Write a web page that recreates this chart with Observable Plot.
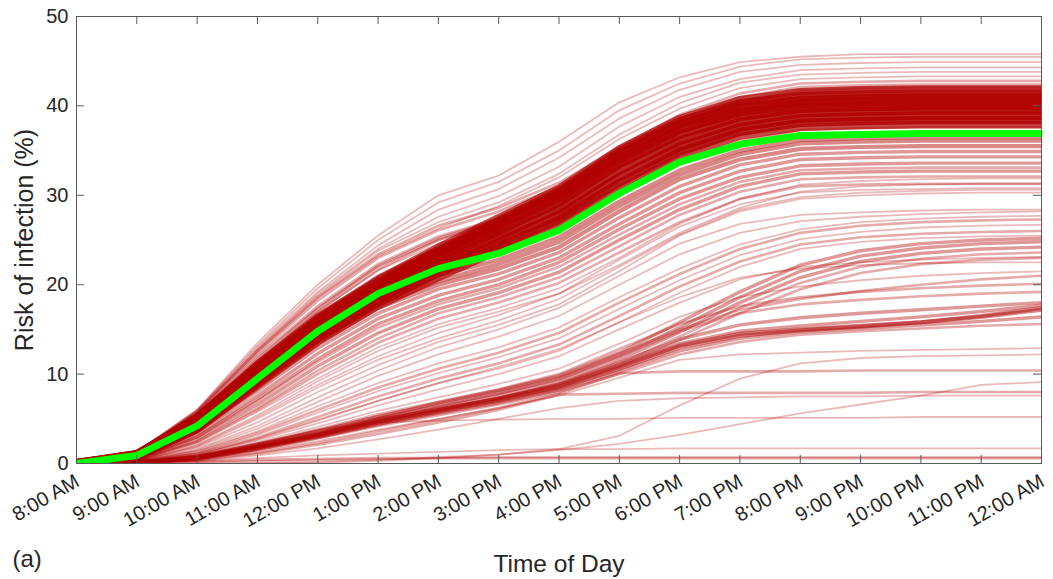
<!DOCTYPE html>
<html><head><meta charset="utf-8">
<script src="https://cdn.jsdelivr.net/npm/d3@7"></script>
<script src="https://cdn.jsdelivr.net/npm/@observablehq/plot@0.6"></script>
<style>
body{margin:0;background:#fff;}
#chart{width:1053px;height:579px;font-family:"Liberation Sans",Arial,Helvetica,sans-serif;}
</style></head><body><div id="chart"></div>
<script>
// ---- tick labels ----
const hourLabels = ["8:00 AM","9:00 AM","10:00 AM","11:00 AM","12:00 PM","1:00 PM","2:00 PM","3:00 PM","4:00 PM","5:00 PM","6:00 PM","7:00 PM","8:00 PM","9:00 PM","10:00 PM","11:00 PM","12:00 AM"];
const riskTicks = [0,10,20,30,40,50];
const xTitle = "Time of Day";
const yTitle = "Risk of infection (%)";
const panelTag = "(a)";

// ---- mean risk (green) ----
const meanRisk = [0,0.9,4.2,9.5,14.8,19.0,21.8,23.5,26.1,30.2,33.7,35.7,36.7,36.8,36.9,36.9,36.9];

// ---- dense core of the main cluster (each path stands for many runs) ----
const corePaths = [
 [0,0.7,3.8,8.8,13.6,17.6,20.8,23.8,26.8,30.8,34.3,36.6,37.6,37.8,37.9,37.9,37.9],
 [0,0.8,4.0,9.1,14.0,18.0,21.3,24.3,27.3,31.4,34.9,37.1,38.1,38.3,38.4,38.4,38.4],
 [0,0.8,4.2,9.4,14.4,18.4,21.8,24.8,27.8,32.0,35.4,37.6,38.6,38.8,38.9,38.9,38.9],
 [0,0.9,4.4,9.8,14.9,18.9,22.3,25.4,28.5,32.8,36.1,38.2,39.2,39.4,39.5,39.5,39.5],
 [0,0.9,4.6,10.2,15.3,19.4,22.8,26.0,29.2,33.5,36.8,38.8,39.7,39.9,40.0,40.0,40.0],
 [0,1.0,4.8,10.5,15.6,19.8,23.2,26.5,29.7,34.0,37.4,39.3,40.2,40.4,40.5,40.5,40.5],
 [0,1.0,5.0,10.7,15.9,20.1,23.6,26.9,30.2,34.5,37.9,39.8,40.6,40.8,40.9,40.9,40.9],
 [0,1.0,5.1,10.9,16.2,20.4,23.9,27.2,30.5,34.9,38.3,40.3,41.1,41.3,41.4,41.4,41.4],
 [0,1.0,5.2,11.1,16.4,20.6,24.2,27.5,30.8,35.2,38.6,40.7,41.6,41.8,41.9,41.9,41.9]
];
const coreRuns = [8,9,10,10,10,10,10,9,8];

// ---- individual runs of the main cluster ----
const mainPaths = [
 [0,0.9,5.0,11.0,16.5,21.0,24.0,26.0,28.5,32.5,36.0,38.5,39.5,39.7,39.8,39.8,39.8],
 [0,1.0,5.3,11.5,17.0,21.6,24.6,26.6,29.3,33.3,36.8,39.2,40.3,40.5,40.6,40.6,40.6],
 [0,0.7,4.2,9.8,15.2,19.8,22.7,24.7,27.3,31.3,34.8,37.2,38.3,38.5,38.6,38.6,38.6],
 [0,1.1,5.5,12.0,17.6,22.3,25.4,27.4,30.2,34.2,37.7,40.0,41.1,41.3,41.4,41.4,41.4],
 [0,1.0,5.2,11.3,17.0,21.7,25.0,27.2,30.0,34.0,37.8,40.4,41.6,41.9,42.0,42.0,42.0],
 [0,0.7,4.0,9.3,14.6,19.1,22.0,24.0,26.7,30.6,34.3,36.8,38.0,38.2,38.3,38.3,38.3],
 [0,0.8,4.5,10.4,15.9,20.5,23.4,25.5,28.0,31.7,35.0,37.3,38.4,38.6,38.7,38.7,38.7],
 [0,0.6,3.8,8.9,14.1,18.4,21.4,23.4,26.0,30.0,33.6,36.0,37.3,37.5,37.6,37.6,37.6],
 [0,1.0,5.4,11.8,17.4,22.0,25.0,27.0,29.8,33.8,37.2,39.6,40.7,40.9,41.0,41.0,41.0],
 [0,1.2,5.8,12.6,18.6,23.4,26.6,28.6,31.4,35.4,39.0,41.4,42.5,42.7,42.8,42.8,42.8],
 [0,1.1,5.6,12.3,18.2,23.0,26.1,28.2,31.0,35.0,38.6,41.0,42.1,42.3,42.4,42.4,42.4],
 [0,1.0,5.3,11.6,17.3,22.1,25.2,27.3,30.2,34.4,38.0,40.6,41.8,42.0,42.1,42.1,42.1],
 [0,0.9,5.0,11.0,16.6,21.1,24.2,26.4,29.3,33.4,36.9,39.3,40.5,40.7,40.8,40.8,40.8],
 [0,1.1,5.7,12.5,18.5,23.2,26.3,28.8,32.0,36.3,39.7,42.0,43.0,43.2,43.3,43.3,43.3]
];
const mainRuns = [1,1,1,2,2,1,1,2,1,2,2,2,1,1];

// ---- highest runs ----
const upperPaths = [
 [0,1.3,6.0,13.5,20.0,25.5,30.0,32.2,36.0,40.4,43.2,44.9,45.5,45.8,45.8,45.8,45.8],
 [0,1.3,6.0,13.2,19.6,25.0,29.2,31.5,35.0,39.5,42.5,44.4,45.2,45.4,45.5,45.5,45.5],
 [0,1.2,5.9,13.0,19.2,24.4,28.4,30.7,34.2,38.6,41.8,43.8,44.6,44.8,44.9,44.9,44.9],
 [0,1.2,5.8,12.8,19.0,24.0,27.6,29.9,33.2,37.7,41.0,43.0,44.0,44.2,44.3,44.3,44.3],
 [0,1.2,5.8,12.7,18.8,23.8,27.0,29.2,32.4,36.8,40.3,42.6,43.5,43.7,43.8,43.8,43.8]
];

// ---- lower edge of the main cluster ----
const lowerMainPaths = [
 [0,0.6,3.6,8.4,13.4,17.4,20.0,21.8,24.2,28.2,31.8,34.0,35.2,35.4,35.5,35.5,35.5],
 [0,0.6,3.5,8.1,12.9,16.8,19.5,21.2,23.6,27.5,31.0,33.4,34.6,34.8,34.9,34.9,34.9],
 [0,0.5,3.2,7.6,12.3,16.2,18.8,20.6,23.0,26.8,30.3,32.7,34.0,34.2,34.3,34.3,34.3],
 [0,0.5,3.0,7.2,11.7,15.6,18.2,20.0,22.5,26.2,29.6,32.0,33.3,33.5,33.6,33.6,33.6],
 [0,0.5,2.9,7.0,11.4,15.2,17.8,19.6,22.0,25.6,29.0,31.5,32.8,33.0,33.1,33.1,33.1],
 [0,0.4,2.7,6.6,10.9,14.6,17.3,19.1,21.4,25.0,28.4,31.0,32.4,32.6,32.7,32.7,32.7],
 [0,0.4,2.5,6.2,10.4,14.0,16.8,18.6,20.8,24.3,27.8,30.4,31.8,32.0,32.1,32.1,32.1],
 [0,0.4,2.4,6.0,10.0,13.5,16.2,18.0,20.2,23.6,27.0,29.6,31.0,31.2,31.3,31.3,31.3],
 [0,0.6,3.7,8.6,13.7,17.8,20.4,22.3,24.8,28.8,32.3,34.6,35.8,36.0,36.1,36.1,36.1],
 [0,0.7,3.9,9.0,14.2,18.3,21.0,22.8,25.3,29.3,32.8,35.0,36.2,36.4,36.5,36.5,36.5]
];
const lowerMainRuns = [4,3,3,3,2,3,2,2,4,4];

// ---- runs between the two clusters ----
const midPaths = [
 [0,0.3,2.0,5.2,8.8,12.0,14.6,16.6,19.0,22.8,26.5,29.0,30.3,30.6,30.7,30.8,30.8],
 [0,0.3,1.8,4.6,8.0,11.0,13.6,15.5,17.8,21.5,25.5,28.2,29.6,30.0,30.2,30.3,30.3],
 [0,0.3,1.9,5.0,8.5,11.6,14.0,16.0,18.4,22.0,25.6,28.4,29.8,30.3,30.5,30.6,30.6],
 [0,0.4,2.3,5.8,9.5,13.0,15.6,17.4,19.6,23.0,26.8,29.6,31.2,31.6,31.8,31.9,31.9],
 [0,0.3,2.1,5.4,9.2,12.6,15.2,17.0,19.0,22.2,25.8,28.6,30.4,31.0,31.2,31.3,31.3],
 [0,0.3,1.6,4.2,7.4,10.4,13.0,15.0,17.4,21.0,24.6,26.8,27.8,28.1,28.3,28.4,28.4],
 [0,0.2,1.5,3.9,6.9,9.8,12.2,14.2,16.5,20.0,23.4,25.8,27.1,27.6,27.9,28.1,28.2]
];

// ---- second cluster (ending near 22-28 %) ----
const secondPaths = [
 [0,0.2,1.4,3.6,6.4,9.0,11.2,13.0,15.2,18.6,21.8,24.5,26.2,27.0,27.4,27.6,27.7],
 [0,0.2,1.3,3.4,6.0,8.5,10.6,12.4,14.6,18.0,21.2,24.0,25.8,26.6,27.0,27.2,27.3],
 [0,0.2,1.2,3.2,5.7,8.1,10.1,11.9,14.0,17.3,20.5,23.3,25.1,25.9,26.4,26.6,26.7],
 [0,0.2,1.1,2.9,5.2,7.5,9.5,11.2,13.3,16.5,19.8,22.6,24.5,25.3,25.7,25.9,26.0],
 [0,0.1,1.0,2.7,4.8,7.0,9.0,10.6,12.6,15.8,19.1,22.0,24.0,24.8,25.2,25.4,25.5],
 [0,0.1,0.8,2.2,3.6,5.2,6.8,8.2,9.8,12.4,15.8,19.2,22.2,23.8,24.6,25.0,25.2],
 [0,0.1,0.8,2.1,3.4,5.0,6.5,7.9,9.5,12.0,15.2,18.6,21.5,23.2,24.1,24.6,24.8],
 [0,0.1,0.7,1.9,3.2,4.7,6.2,7.6,9.1,11.6,14.7,18.0,20.8,22.6,23.5,24.0,24.2],
 [0,0.1,0.7,1.8,3.0,4.5,5.9,7.3,8.8,11.2,14.2,17.4,20.2,22.0,22.9,23.4,23.6],
 [0,0.1,0.6,1.7,2.9,4.3,5.7,7.0,8.5,10.9,13.8,16.8,19.5,21.3,22.3,22.8,23.0],
 [0,0.2,1.0,2.6,4.5,6.5,8.3,10.0,12.0,15.0,18.0,20.6,22.0,22.5,22.8,23.0,23.1],
 [0,0.2,1.1,2.8,4.9,7.0,9.0,10.8,12.8,15.8,18.6,20.8,21.8,22.2,22.4,22.5,22.5]
];
const secondRuns = [1,2,1,2,1,3,3,3,2,2,1,1];

// ---- lowest cluster (ending near 15-21 %) ----
const lowPaths = [
 [0,0.1,0.6,1.8,3.2,4.8,6.0,7.2,8.6,10.8,13.2,14.5,15.0,15.4,15.8,16.4,17.2],
 [0,0.1,0.6,1.7,3.1,4.6,5.8,7.0,8.4,10.6,13.0,14.3,14.9,15.3,15.8,16.5,17.4],
 [0,0.1,0.7,1.9,3.3,4.9,6.1,7.3,8.8,11.0,13.4,14.8,15.4,15.9,16.4,17.0,17.7],
 [0,0.1,0.5,1.6,2.9,4.4,5.6,6.8,8.2,10.3,12.6,14.0,14.7,15.1,15.5,15.9,16.4],
 [0,0.1,0.6,1.8,3.2,4.7,6.0,7.3,8.9,11.3,13.9,15.5,16.3,16.8,17.2,17.6,18.0],
 [0,0.1,0.5,1.5,2.8,4.2,5.4,6.6,8.0,10.0,12.2,13.6,14.4,14.8,15.1,15.4,15.6],
 [0,0.1,0.7,2.0,3.5,5.1,6.4,7.8,9.4,12.0,14.8,16.8,17.8,18.3,18.7,19.0,19.2],
 [0,0.1,0.8,2.2,3.8,5.5,6.9,8.3,10.0,12.8,15.6,17.6,18.6,19.2,19.6,19.9,20.1],
 [0,0.1,0.7,2.1,3.7,5.3,6.7,8.1,9.7,12.3,15.0,17.2,18.4,19.3,20.0,20.6,21.0],
 [0,0.2,0.9,2.4,4.1,5.9,7.4,8.9,10.6,13.4,16.4,18.6,19.8,20.5,21.0,21.3,21.5]
];
const lowRuns = [4,4,3,3,3,2,2,2,2,1];

// ---- runs that level off early or start late ----
const flatPaths = [
 [0,0.1,0.5,1.4,2.5,3.8,5.0,6.2,7.6,9.6,11.6,12.2,12.4,12.6,12.7,12.8,12.9],
 [0,0.1,0.4,1.2,2.3,3.6,4.9,6.2,7.8,10.1,10.3,10.3,10.3,10.4,10.4,10.4,10.4],
 [0,0.1,0.4,1.1,2.1,3.3,4.6,6.0,7.7,7.8,7.9,7.9,7.9,7.9,8.0,8.0,8.0],
 [0,0.1,0.3,0.9,1.7,2.7,3.8,5.0,6.2,7.0,7.3,7.4,7.5,7.5,7.6,7.6,7.6],
 [0,0.1,0.8,2.2,3.8,4.6,4.8,4.9,5.0,5.0,5.1,5.1,5.1,5.1,5.2,5.2,5.2],
 [0,0.0,0.0,0.0,0.1,0.3,0.6,1.0,1.6,3.1,6.5,9.5,11.2,11.8,12.0,12.1,12.2],
 [0,0.0,0.0,0.1,0.2,0.4,0.7,1.0,1.5,2.2,3.2,4.4,5.6,6.6,7.6,8.8,9.1],
 [0,0.1,0.3,0.6,0.9,1.1,1.3,1.5,1.6,1.6,1.7,1.7,1.7,1.7,1.7,1.7,1.7],
 [0,0.1,0.2,0.4,0.5,0.6,0.6,0.6,0.6,0.6,0.6,0.6,0.6,0.6,0.6,0.6,0.6],
 [0,0.1,0.2,0.3,0.4,0.5,0.6,0.7,0.7,0.7,0.7,0.7,0.7,0.7,0.7,0.7,0.7]
];
const flatRuns = [1,2,2,1,1,1,1,1,2,1];

// ---- build the long table ----
const groups = [
  [upperPaths, upperPaths.map(() => 1)],
  [mainPaths, mainRuns],
  [lowerMainPaths, lowerMainRuns],
  [midPaths, midPaths.map(() => 1)],
  [secondPaths, secondRuns],
  [lowPaths, lowRuns],
  [flatPaths, flatRuns],
  [corePaths, coreRuns]
];
const rows = [];
let pid = 0;
for (const [paths, runs] of groups) {
  paths.forEach((p, k) => {
    p.forEach((v, i) => rows.push({id: pid, hour: i, risk: v, runs: runs[k]}));
    pid++;
  });
}
const meanRows = meanRisk.map((v, i) => ({hour: i, risk: v}));
const hourIdx = hourLabels.map((_, i) => i);

const widthOf = d3.scaleLinear().domain([1, 10]).range([1.8, 9]);
const alphaOf = d3.scaleLinear().domain([1, 10]).range([0.27, 0.85]);
const red = "#b00000";
const axisColor = "#262626";
const frameColor = "#5a5a5a";

const W = 1053, H = 579, mL = 76, mR = 12, mT = 16, mB = 116;
const frameW = W - mL - mR, frameH = H - mT - mB;

const chart = Plot.plot({
  width: W, height: H,
  marginLeft: mL, marginRight: mR, marginTop: mT, marginBottom: mB,
  style: {fontFamily: '"Liberation Sans", Arial, Helvetica, sans-serif', background: "#fff", color: axisColor},
  x: {domain: [0, hourLabels.length - 1], axis: null},
  y: {domain: [0, 50], axis: null},
  marks: [
    Plot.line(rows, {x: "hour", y: "risk", z: "id", stroke: red,
      strokeWidth: d => widthOf(d.runs), strokeOpacity: d => alphaOf(d.runs),
      strokeLinejoin: "round", strokeLinecap: "butt", curve: "linear", clip: true}),
    Plot.line(meanRows, {x: "hour", y: "risk", stroke: "#00ff00", strokeWidth: 7, strokeLinejoin: "round", strokeLinecap: "butt", clip: true}),
    Plot.frame({stroke: frameColor, strokeWidth: 1}),
    Plot.tickX(hourIdx, {x: d => d, insetTop: frameH - 8, stroke: frameColor}),
    Plot.tickX(hourIdx, {x: d => d, insetBottom: frameH - 8, stroke: frameColor}),
    Plot.tickY(riskTicks, {y: d => d, insetRight: frameW - 8, stroke: frameColor}),
    Plot.tickY(riskTicks, {y: d => d, insetLeft: frameW - 8, stroke: frameColor}),
    Plot.axisX(hourIdx, {ticks: hourIdx, tickFormat: i => hourLabels[i], tickRotate: -30, tickSize: 0,
      tickPadding: 16, dx: 1, fontSize: 20, label: null, color: axisColor}),
    Plot.axisY(riskTicks, {ticks: riskTicks, tickSize: 0, tickPadding: 8, fontSize: 20, label: null, color: axisColor}),
    Plot.text([yTitle], {frameAnchor: "left", dx: -44, rotate: -90, lineAnchor: "bottom", textAnchor: "middle", fontSize: 25, fill: axisColor}),
    Plot.text([xTitle], {frameAnchor: "bottom", dy: 108, lineAnchor: "bottom", textAnchor: "middle", fontSize: 24.5, fill: axisColor}),
    Plot.text([panelTag], {frameAnchor: "bottom-left", dx: -64, dy: 103, lineAnchor: "bottom", textAnchor: "start", fontSize: 24, fill: axisColor})
  ]
});
document.getElementById("chart").appendChild(chart);
</script>
</body></html>
